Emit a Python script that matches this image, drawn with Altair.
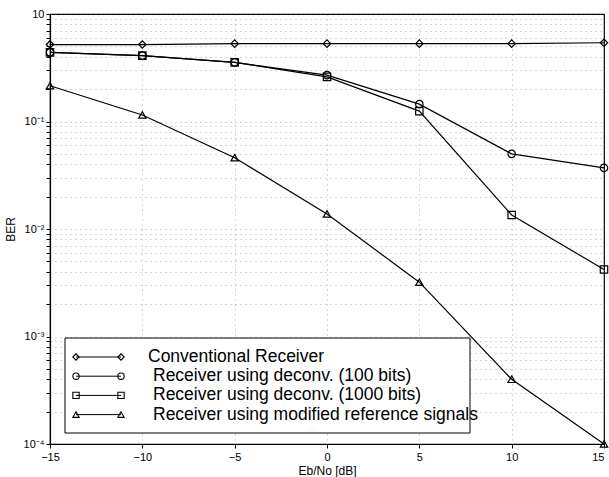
import altair as alt
import pandas as pd

ebno = [-15, -10, -5, 0, 5, 10, 15]
series_names = [
    "Conventional Receiver",
    "Receiver using deconv. (100 bits)",
    "Receiver using deconv. (1000 bits)",
    "Receiver using modified reference signals",
]
ber_conv = [0.52, 0.52, 0.53, 0.53, 0.53, 0.53, 0.54]
ber_100 = [0.44, 0.41, 0.355, 0.27, 0.145, 0.05, 0.037]
ber_1000 = [0.44, 0.41, 0.355, 0.26, 0.125, 0.0135, 0.0042]
ber_mod = [0.215, 0.115, 0.046, 0.0138, 0.0032, 0.0004, 0.0001]
shapes = ["diamond", "circle", "square", "triangle-up"]
legend_labels = [
    "Conventional Receiver",
    " Receiver using deconv. (100 bits)",
    " Receiver using deconv. (1000 bits)",
    " Receiver using modified reference signals",
]
x_ticks = [-15, -10, -5, 0, 5, 10, 15]

rows = []
for name, vals in zip(series_names, [ber_conv, ber_100, ber_1000, ber_mod]):
    for x, v in zip(ebno, vals):
        rows.append({"ebno": x, "ber": v, "series": name})
df = pd.DataFrame(rows)

y_vals = []
for d in [-4, -3, -2, -1]:
    for k in range(1, 10):
        y_vals.append(round(k * 10 ** d, 10))
y_vals.append(1)

label_expr = (
    "abs(datum.value-1)<1e-9 ? '10' : "
    "abs(datum.value-0.1)<1e-9 ? '10\u207b\u00b9' : "
    "abs(datum.value-0.01)<1e-10 ? '10\u207b\u00b2' : "
    "abs(datum.value-0.001)<1e-11 ? '10\u207b\u00b3' : "
    "abs(datum.value-0.0001)<1e-12 ? '10\u207b\u2074' : ''"
)

font = "Liberation Sans"

xenc = alt.X(
    "ebno:Q",
    scale=alt.Scale(domain=[-15, 15], nice=False, zero=False),
    axis=alt.Axis(
        values=x_ticks, title="Eb/No [dB]", format="d",
        labelAlign={"condition": {"test": "datum.value == 15", "value": "right"}, "value": "center"},
    ),
)
yenc = alt.Y(
    "ber:Q",
    scale=alt.Scale(type="log", domain=[1e-4, 1], nice=False),
    axis=alt.Axis(values=y_vals, labelExpr=label_expr, title="BER"),
)
shape_enc = alt.Shape(
    "series:N",
    scale=alt.Scale(domain=series_names, range=shapes),
    legend=None,
)

lines = alt.Chart(df).mark_line(color="black", strokeWidth=1.2).encode(
    x=xenc, y=yenc, detail="series:N"
)
points = alt.Chart(df).mark_point(
    filled=False, color="black", size=55, strokeWidth=1.2, opacity=1
).encode(x=xenc, y=yenc, shape=shape_enc)

leg_df = pd.DataFrame({"label": legend_labels, "shape": shapes, "row": [0, 1, 2, 3]})
leg_base = alt.Chart(leg_df).transform_calculate(
    py="343 + datum.row * 19.2"
)
box = alt.Chart(leg_df).mark_rect(
    fill="white", stroke="black", strokeWidth=1
).encode(
    x=alt.value(15), x2=alt.value(420), y=alt.value(324), y2=alt.value(419)
).transform_filter("datum.row == 0")
leg_rule = leg_base.mark_rule(color="black", strokeWidth=1).encode(
    x=alt.value(26), x2=alt.value(71), y=alt.Y("py:Q", scale=None, axis=None)
)
leg_pt1 = leg_base.mark_point(filled=False, color="black", size=40, strokeWidth=1.1, opacity=1).encode(
    x=alt.value(26), y=alt.Y("py:Q", scale=None, axis=None),
    shape=alt.Shape("shape:N", scale=None)
)
leg_pt2 = leg_base.mark_point(filled=False, color="black", size=40, strokeWidth=1.1, opacity=1).encode(
    x=alt.value(71), y=alt.Y("py:Q", scale=None, axis=None),
    shape=alt.Shape("shape:N", scale=None)
)
leg_text = leg_base.transform_calculate(
    px="datum.row == 0 ? 98 : 103"
).mark_text(
    align="left", baseline="middle", font=font, fontSize=17.5, color="black"
).encode(
    x=alt.X("px:Q", scale=None, axis=None),
    y=alt.Y("py:Q", scale=None, axis=None),
    text="label:N",
)

chart = alt.layer(
    lines, points, box, leg_rule, leg_pt1, leg_pt2, leg_text
).properties(
    width=554, height=430,
    autosize=alt.AutoSizeParams(type="none"),
    padding={"left": 50, "top": 14, "right": 5, "bottom": 33},
    background="white",
).configure_view(
    stroke="black", strokeWidth=1.2
).configure_axis(
    grid=True,
    gridColor="#555555",
    gridDash=[1, 4],
    gridWidth=0.8,
    gridOpacity=0.6,
    domainColor="black",
    domainWidth=1.2,
    tickColor="black",
    tickSize=4,
    labelFont=font,
    labelFontSize=11,
    labelColor="black",
    titleFont=font,
    titleFontSize=12,
    titleFontWeight="normal",
    titleColor="black",
    labelFlush=False,
).configure_axisX(
    titlePadding=3, labelPadding=3
).configure_axisY(
    titlePadding=6, labelPadding=2
)

chart.save("out.html", embed_options={"renderer": "svg", "actions": False})
